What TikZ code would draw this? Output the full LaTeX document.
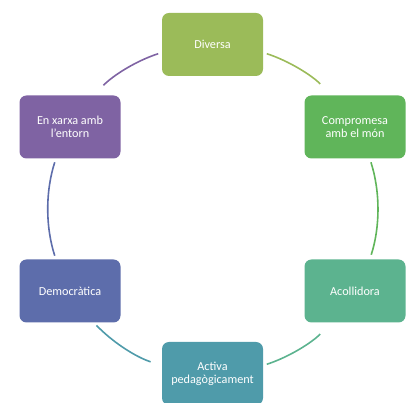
\documentclass[tikz,border=0pt]{standalone}
\usepackage{fontspec}
\setmainfont{Carlito}
\usetikzlibrary{arrows.meta}

\definecolor{cDiv}{HTML}{9BBB59}
\definecolor{cCom}{HTML}{60B55A}
\definecolor{cAco}{HTML}{5CB38F}
\definecolor{cAct}{HTML}{4F9BAA}
\definecolor{cDem}{HTML}{5D6DAB}
\definecolor{cXar}{HTML}{7F63A3}

\begin{document}
\begin{tikzpicture}[x=1pt,y=1pt,
    box/.style={rectangle, rounded corners=7pt, minimum width=101pt, minimum height=63pt,
        inner sep=2pt, outer sep=0pt, align=center, text=white,
        font=\fontsize{12.2}{13.2}\selectfont},
    ring/.style={line width=1.6pt, looseness=0.87}]
            \useasboundingbox (0,0) rectangle (409,403);
            \node[box, fill=cDiv] (div) at (212.5,358.5) {Diversa};
            \node[box, fill=cCom] (com) at (355,276) {Compromesa\\amb el m\'on};
            \node[box, fill=cAco] (aco) at (355,112) {Acollidora};
            \node[box, fill=cAct] (act) at (212.5,29.5) {Activa\\pedag\`ogicament};
            \node[box, fill=cDem] (dem) at (70,112) {Democr\`atica};
            \node[box, fill=cXar] (xar) at (70,276) {En xarxa amb\\l'entorn};
            % arcs of the cycle
            \draw[ring, cDiv, shorten <=4pt, shorten >=16pt] (div.-9) to[out=-17.9, in=133.75] (com.127);
            \draw[ring, cCom, shorten <=4pt, shorten >=5pt] (com.-65.9) to[out=-72.03, in=72.03] (aco.65.9);
            \draw[ring, cAco, shorten <=16pt, shorten >=4pt] (aco.233.3) to[out=-133.75, in=17.9] (act.9);
            \draw[ring, cAct, shorten <=12pt, shorten >=4pt] (act.171) to[out=162.1, in=-46.25] (dem.-53.3);
            \draw[ring, cDem, shorten <=4pt, shorten >=4pt] (dem.114.1) to[out=107.97, in=-107.97] (xar.-114.1);
            \draw[ring, cXar, shorten <=14pt, shorten >=4pt] (xar.53.3) to[out=46.25, in=-162.1] (div.189);
\end{tikzpicture}
\end{document}
